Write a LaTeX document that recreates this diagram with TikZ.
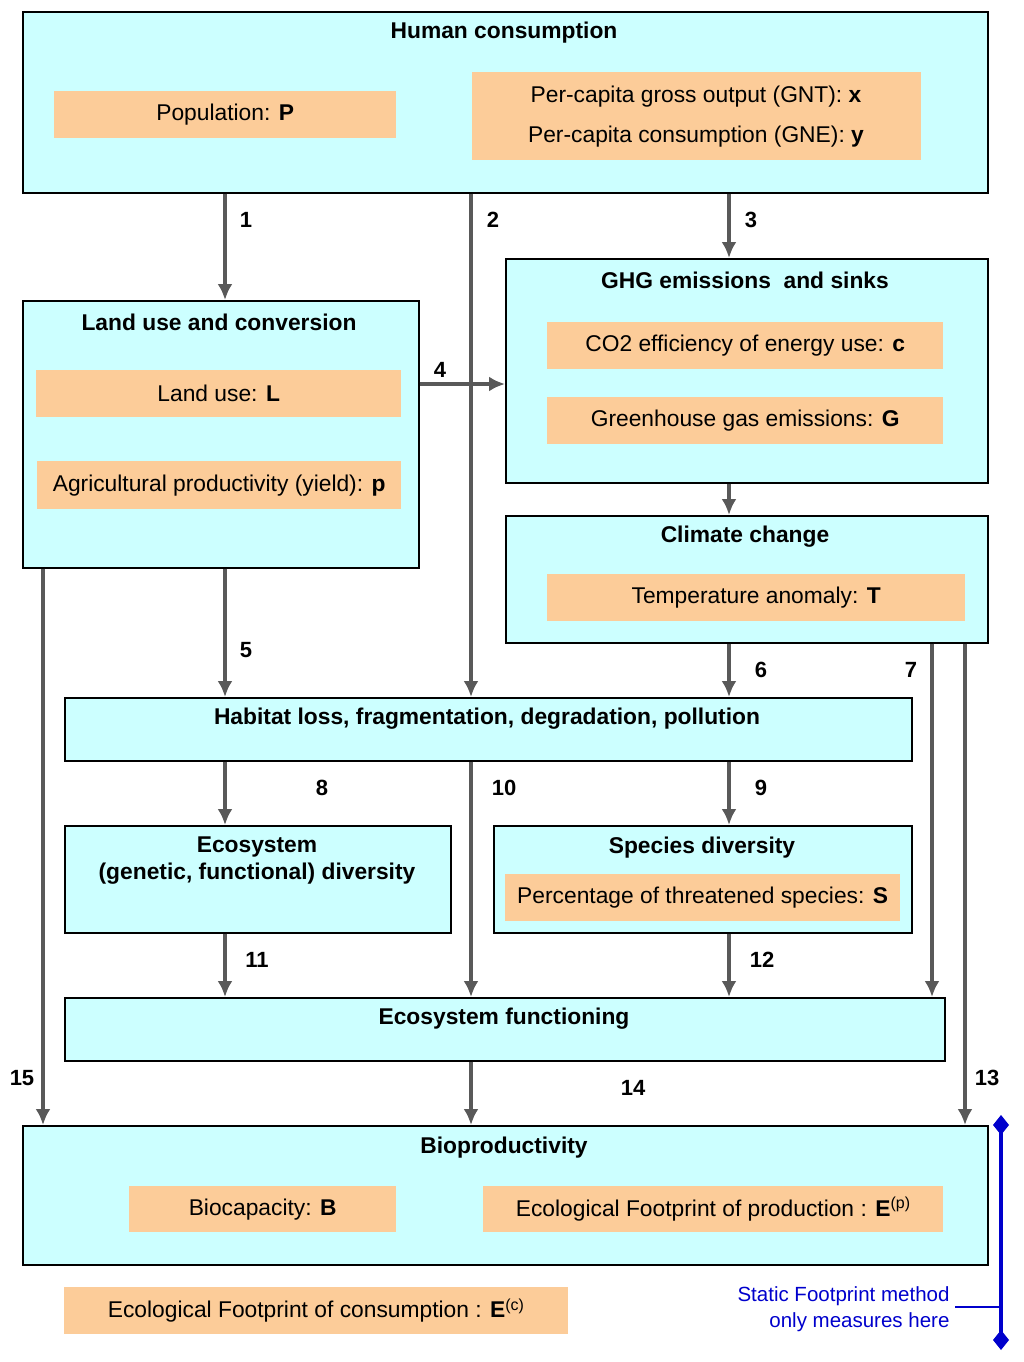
\documentclass[tikz,border=0pt]{standalone}
\usepackage{fontspec}
\setmainfont{Liberation Sans}
\usetikzlibrary{arrows.meta}
\definecolor{cy}{HTML}{CCFFFF}
\definecolor{og}{HTML}{FCCC99}
\definecolor{ar}{HTML}{595959}
\definecolor{bl}{HTML}{0000CC}
\begin{document}
\begin{tikzpicture}[x=1pt,y=-1pt,
 box/.style={draw=black,line width=1.6pt,fill=cy,anchor=north west,inner sep=0},
 ob/.style={fill=og,anchor=north west,inner sep=0},
 t/.style={font=\fontsize{22.8}{26}\selectfont},
 tb/.style={font=\fontsize{22.8}{27}\selectfont\bfseries},
 arr/.style={draw=ar,line width=4pt,-{Latex[length=16pt,width=15pt]}},
 num/.style={font=\fontsize{22}{24}\selectfont\bfseries}]
\useasboundingbox (0,0) rectangle (1024,1362);
\newcommand{\bx}[6][box]{\node[#1,minimum width=#4-#2,minimum height=#5-#3] (#6) at (#2,#3) {};}
% boxes
\bx{22}{11}{987}{192}{hc}
\bx[ob]{54}{91}{396}{138}{pop}
\bx[ob]{472}{72}{921}{160}{gnt}
\bx{22}{300}{418}{567}{lu}
\bx[ob]{36}{370}{401}{417}{lul}
\bx[ob]{37}{461}{401}{509}{agr}
\bx{505}{258}{987}{482}{ghg}
\bx[ob]{547}{322}{943}{369}{co2}
\bx[ob]{547}{397}{943}{444}{gge}
\bx{505}{515}{987}{642}{cc}
\bx[ob]{547}{574}{965}{621}{tmp}
\bx{64}{697}{911}{760}{hl}
\bx{64}{825}{450}{932}{ed}
\bx{493}{825}{911}{932}{sd}
\bx[ob]{505}{874}{900}{921}{thr}
\bx{64}{997}{944}{1060}{ef}
\bx{22}{1125}{987}{1264}{bp}
\bx[ob]{129}{1186}{396}{1232}{bc}
\bx[ob]{483}{1186}{943}{1232}{efp}
\bx[ob]{64}{1287}{568}{1334}{efc}
% texts
\node[tb] (t1) at (504,33) {Human consumption};
\node[t] at (pop.center) {Population: \textbf{P}};
\node[t] (g1) at (696,97) {Per-capita gross output (GNT): \textbf{x}};
\node[t] (g2) at (696,137) {Per-capita consumption (GNE): \textbf{y}};
\node[tb] (t2) at (219,322) {Land use and conversion};
\node[t] at (lul.center) {Land use: \textbf{L}};
\node[t] at (agr.center) {Agricultural productivity (yield): \textbf{p}};
\node[tb] (t3) at (745,280) {GHG emissions\ \ and sinks};
\node[t] at (co2.center) {CO2 efficiency of energy use: \textbf{c}};
\node[t] at (gge.center) {Greenhouse gas emissions: \textbf{G}};
\node[tb] (t4) at (745,537) {Climate change};
\node[t] at (tmp.center) {Temperature anomaly: \textbf{T}};
\node[tb] (t5) at (487,719) {Habitat loss, fragmentation, degradation, pollution};
\node[tb,align=center] (t6) at (257,861) {Ecosystem\\(genetic, functional) diversity};
\node[tb] (t7) at (702,848) {Species diversity};
\node[t] at (thr.center) {Percentage of threatened species: \textbf{S}};
\node[tb] (t8) at (504,1019) {Ecosystem functioning};
\node[tb] (t9) at (504,1148) {Bioproductivity};
\node[t] at (bc.center) {Biocapacity: \textbf{B}};
\node[t] at (efp.center) {Ecological Footprint of production : \textbf{E}\textsuperscript{(p)}};
\node[t] at (efc.center) {Ecological Footprint of consumption : \textbf{E}\textsuperscript{(c)}};
% arrows
\draw[arr] (hc.south -| 225,0) -- (lu.north -| 225,0);
\draw[arr] (hc.south -| 471,0) -- (hl.north -| 471,0);
\draw[arr] (hc.south -| 729,0) -- (ghg.north -| 729,0);
\draw[arr] (lu.east |- 0,384) -- (ghg.west |- 0,384);
\draw[arr] (ghg.south -| 729,0) -- (cc.north -| 729,0);
\draw[arr] (lu.south -| 225,0) -- (hl.north -| 225,0);
\draw[arr] (cc.south -| 729,0) -- (hl.north -| 729,0);
\draw[arr] (cc.south -| 932,0) -- (ef.north -| 932,0);
\draw[arr] (cc.south -| 965,0) -- (bp.north -| 965,0);
\draw[arr] (hl.south -| 225,0) -- (ed.north -| 225,0);
\draw[arr] (hl.south -| 471,0) -- (ef.north -| 471,0);
\draw[arr] (hl.south -| 729,0) -- (sd.north -| 729,0);
\draw[arr] (ed.south -| 225,0) -- (ef.north -| 225,0);
\draw[arr] (sd.south -| 729,0) -- (ef.north -| 729,0);
\draw[arr] (ef.south -| 471,0) -- (bp.north -| 471,0);
\draw[arr] (lu.south -| 43,0) -- (bp.north -| 43,0);
% numbers
\node[num] at (246,220) {1};
\node[num] at (493,220) {2};
\node[num] at (751,220) {3};
\node[num] at (440,370) {4};
\node[num] at (246,650) {5};
\node[num] at (761,670) {6};
\node[num] at (911,670) {7};
\node[num] at (322,788) {8};
\node[num] at (761,788) {9};
\node[num] at (504,788) {10};
\node[num] at (257,960) {11};
\node[num] at (762,960) {12};
\node[num] at (987,1078) {13};
\node[num] at (633,1088) {14};
\node[num] at (22,1078) {15};
% bracket
\coordinate (b1) at (1001,1125);
\coordinate (b2) at (1001,1340);
\coordinate (b3) at (955,1307);
\draw[bl,line width=3.5pt] (b1) -- (b2);
\draw[bl,line width=2pt] (b3) -- (b3 -| b1);
\fill[bl] (b1) +(0,-10) -- +(8,0) -- +(0,10) -- +(-8,0) -- cycle;
\fill[bl] (b2) +(0,-10) -- +(8,0) -- +(0,10) -- +(-8,0) -- cycle;
\node[text=bl,anchor=east,align=right,font=\fontsize{20.5}{26}\selectfont] (st) at (953,1309) {Static Footprint method\\only measures here};
\end{tikzpicture}
\end{document}
